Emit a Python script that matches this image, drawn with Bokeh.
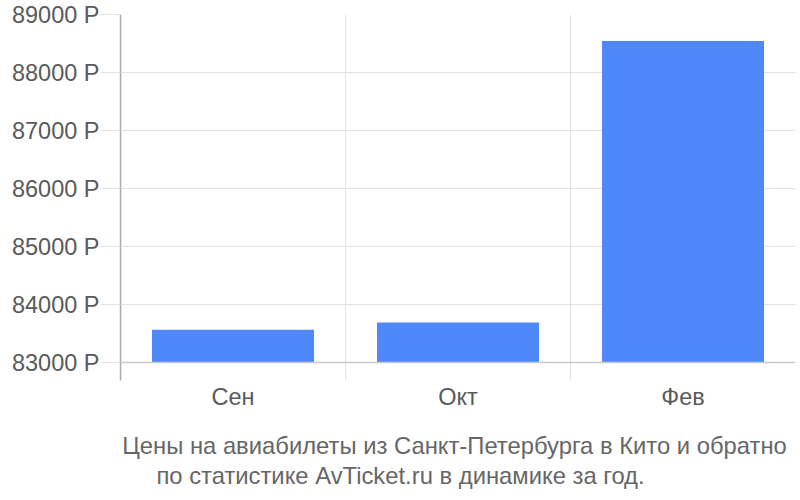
from bokeh.plotting import figure
from bokeh.layouts import column
from bokeh.models import Range1d, FixedTicker, Span, Label
from bokeh.embed import file_html
from bokeh.resources import INLINE

months = ["Сен", "Окт", "Фев"]
prices = [83565, 83690, 88545]
y_ticks = [83000, 84000, 85000, 86000, 87000, 88000, 89000]
y_tick_labels = [f"{v} Р" for v in y_ticks]
baseline = 83000
title_lines = ["Цены на авиабилеты из Санкт-Петербурга в Кито и обратно",
               "по статистике AvTicket.ru в динамике за год."]

FONT = "Liberation Sans"
TEXT = "#5a5a5a"

p = figure(x_range=months, y_range=Range1d(82690, 89000), width=800, height=420,
           output_backend="svg", toolbar_location=None,
           min_border_left=120, min_border_right=5, min_border_top=14, min_border_bottom=40)
p.outline_line_color = None
p.background_fill_color = "white"
p.border_fill_color = "white"

p.vbar(x=months, top=prices, bottom=baseline, width=0.72, color="#4f88f8", line_color=None)

# y axis
p.yaxis.ticker = FixedTicker(ticks=y_ticks)
p.yaxis.major_label_overrides = {v: l for v, l in zip(y_ticks, y_tick_labels)}
p.yaxis.major_tick_out = 20
p.yaxis.major_tick_in = 0
p.yaxis.major_tick_line_color = "#e2e2e2"
p.yaxis.minor_tick_line_color = None
p.yaxis.axis_line_color = "#aaaaaa"
p.yaxis.axis_line_width = 1.5
p.yaxis.major_label_standoff = 1
p.yaxis.major_label_text_font = FONT
p.yaxis.major_label_text_font_size = "23.5px"
p.yaxis.major_label_text_color = TEXT

p.ygrid.ticker = FixedTicker(ticks=y_ticks)
p.ygrid.grid_line_color = "#e2e2e2"

# x axis
p.xaxis.axis_line_color = None
p.xaxis.major_tick_line_color = None
p.xaxis.minor_tick_line_color = None
p.xaxis.major_label_standoff = -3
p.xaxis.major_label_text_font = FONT
p.xaxis.major_label_text_font_size = "23.5px"
p.xaxis.major_label_text_color = TEXT

p.xgrid.ticker = FixedTicker(ticks=list(range(len(months) + 1)))
p.xgrid.grid_line_color = "#e2e2e2"

p.add_layout(Span(location=baseline, dimension="width", line_color="#c8c8c8", line_width=1.5))

# caption panel under the chart (its frame is aligned with the chart's frame: 120..795 px)
cap = figure(width=800, height=80, x_range=Range1d(120, 795), y_range=Range1d(0, 80),
             output_backend="svg", toolbar_location=None,
             x_axis_location=None, y_axis_location=None,
             min_border=0, min_border_left=0, min_border_right=0,
             min_border_top=0, min_border_bottom=0)
cap.outline_line_color = None
cap.xgrid.visible = False
cap.ygrid.visible = False
cap.border_fill_color = "white"

caption_x = [454, 400]
caption_y = [55, 25]
for line, xx, yy in zip(title_lines, caption_x, caption_y):
    cap.add_layout(Label(x=xx, y=yy, text=line, text_align="center", text_baseline="middle",
                         text_font=FONT, text_font_size="23.8px", text_color="#666666"))

open("out.html", "w").write(file_html(column(p, cap, spacing=0), INLINE))
